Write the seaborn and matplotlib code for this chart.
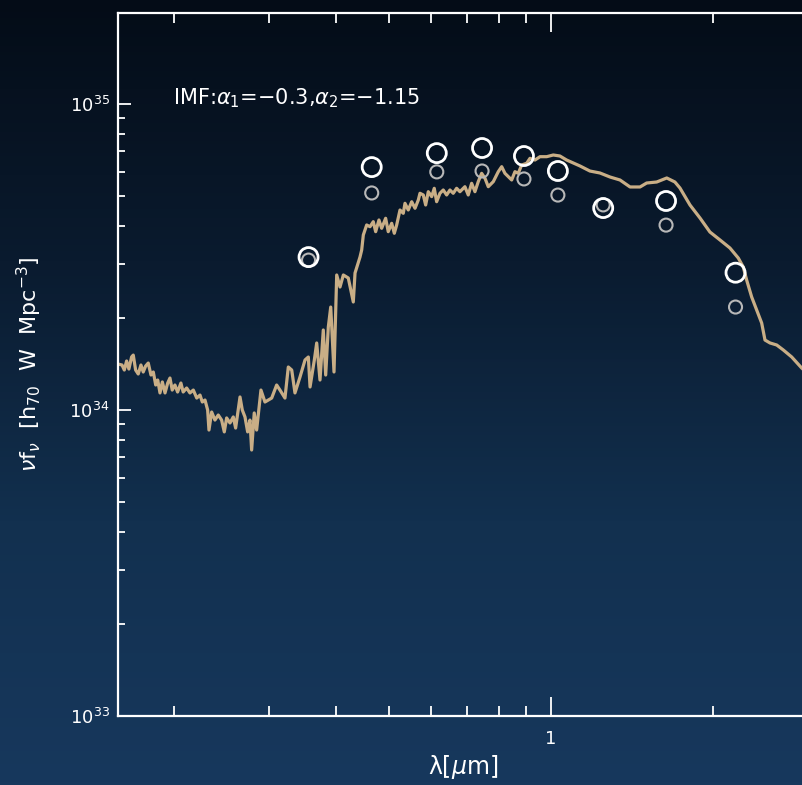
import numpy as np
import pandas as pd
import matplotlib
matplotlib.use("Agg")
import matplotlib.pyplot as plt
import matplotlib.ticker as mticker
from matplotlib.colors import LinearSegmentedColormap
import seaborn as sns

# ---------------- data ----------------
# model spectrum: wavelength [micron], nu f_nu [1e34 h70 W Mpc^-3]
spec_lam = [0.1573, 0.1600, 0.1616, 0.1632, 0.1648, 0.1667, 0.1679, 0.1696, 0.1715, 0.1735,
            0.1752, 0.1770, 0.1790, 0.1811, 0.1829, 0.1848, 0.1864, 0.1882, 0.1901, 0.1923,
            0.1945, 0.1964, 0.1983, 0.2006, 0.2029, 0.2058, 0.2078, 0.2109, 0.2139, 0.2170,
            0.2202, 0.2233, 0.2255, 0.2281, 0.2307, 0.2320, 0.2347, 0.2380, 0.2414, 0.2449,
            0.2477, 0.2502, 0.2538, 0.2574, 0.2600, 0.2649, 0.2675, 0.2706, 0.2737, 0.2764,
            0.2784, 0.2815, 0.2844, 0.2897, 0.2947, 0.3033, 0.3098, 0.3142, 0.3210, 0.3256,
            0.3304, 0.3350, 0.3423, 0.3497, 0.3547, 0.3573, 0.3639, 0.3676, 0.3728, 0.3781,
            0.3820, 0.3863, 0.3903, 0.3958, 0.4004, 0.4061, 0.4119, 0.4207, 0.4298, 0.4330,
            0.4423, 0.4455, 0.4486, 0.4551, 0.4616, 0.4681, 0.4729, 0.4796, 0.4852, 0.4935,
            0.4990, 0.5064, 0.5121, 0.5173, 0.5247, 0.5321, 0.5360, 0.5436, 0.5516, 0.5595,
            0.5674, 0.5715, 0.5796, 0.5855, 0.5921, 0.6007, 0.6074, 0.6136, 0.6224, 0.6312,
            0.6404, 0.6495, 0.6587, 0.6683, 0.6778, 0.6924, 0.7023, 0.7126, 0.7227, 0.7330,
            0.7437, 0.7544, 0.7650, 0.7816, 0.7985, 0.8102, 0.8215, 0.8334, 0.8455, 0.8574,
            0.8696, 0.8823, 0.9014, 0.9143, 0.9340, 0.9541, 0.9818, 1.0099, 1.039,
            1.069, 1.100, 1.132, 1.181, 1.233, 1.287,
            1.343, 1.402, 1.463, 1.505, 1.571, 1.640, 1.698, 1.735, 1.811, 1.890,
            1.972, 2.059, 2.148, 2.226, 2.274, 2.307, 2.357, 2.408, 2.460, 2.495,
            2.549, 2.623, 2.698, 2.797, 2.918, 2.972]
spec_flux = [1.413, 1.403, 1.351, 1.446, 1.361, 1.490, 1.512, 1.351, 1.311, 1.403,
             1.331, 1.392, 1.424, 1.301, 1.331, 1.207, 1.253, 1.137, 1.235, 1.137,
             1.225, 1.272, 1.162, 1.207, 1.145, 1.225, 1.145, 1.180, 1.137, 1.162,
             1.094, 1.119, 1.062, 1.078, 1.000, 0.860, 0.985, 0.927, 0.963, 0.927,
             0.848, 0.942, 0.907, 0.949, 0.873, 1.103, 1.000, 0.949, 0.848, 0.927,
             0.740, 0.978, 0.860, 1.162, 1.062, 1.094, 1.207, 1.162, 1.094, 1.382,
             1.351, 1.137, 1.282, 1.457, 1.490, 1.189, 1.457, 1.656, 1.253, 1.826,
             1.301, 1.867, 2.170, 1.331, 2.762, 2.523, 2.762, 2.700, 2.254, 2.804,
             3.162, 3.334, 3.732, 4.024, 3.972, 4.125, 3.826, 4.178, 3.925, 4.232,
             3.826, 4.075, 3.780, 4.024, 4.504, 4.393, 4.737, 4.504, 4.794, 4.562,
             4.857, 5.108, 5.043, 4.677, 5.169, 4.980, 5.303, 4.794, 5.108, 5.236,
             5.043, 5.236, 5.108, 5.303, 5.169, 5.367, 5.043, 5.506, 5.169, 5.574,
             5.936, 5.718, 5.367, 5.574, 6.009, 6.240, 5.936, 5.787, 5.645, 6.009,
             5.936, 6.320, 6.401, 6.645, 6.561, 6.727, 6.727, 6.813, 6.762,
             6.561, 6.416, 6.273, 6.039, 5.950, 5.773,
             5.645, 5.356, 5.356, 5.518, 5.560, 5.731, 5.560, 5.315, 4.677, 4.241,
             3.817, 3.594, 3.384, 3.138, 2.933, 2.660, 2.341, 2.122, 1.924, 1.693,
             1.656, 1.631, 1.571, 1.490, 1.372, 1.331]

# photometric points (ugriz + YJHK)
band_lam = [0.355, 0.465, 0.614, 0.745, 0.891, 1.03, 1.25, 1.635, 2.20]
obs_flux = [3.16, 6.22, 6.91, 7.18, 6.76, 6.04, 4.57, 4.82, 2.81]
alt_flux = [3.09, 5.12, 6.00, 6.04, 5.69, 5.04, 4.68, 4.02, 2.17]

x_major = [1]
x_major_labels = ["1"]
y_major = [1e33, 1e34, 1e35]
y_major_labels = [r"$10^{33}$", r"$10^{34}$", r"$10^{35}$"]

annotation = r"IMF:$\alpha_1$=$-$0.3,$\alpha_2$=$-$1.15"
x_label = "λ[" + r"$\mu$" + "m]"
y_label = r"$\nu$f$_\nu$  [h$_{70}$  W  Mpc$^{-3}$]"

UNIT = 1e34
spec = pd.DataFrame({"lam": spec_lam, "flux": np.array(spec_flux) * UNIT})
obs = pd.DataFrame({"lam": band_lam, "flux": np.array(obs_flux) * UNIT})
alt = pd.DataFrame({"lam": band_lam, "flux": np.array(alt_flux) * UNIT})

# ---------------- figure ----------------
sns.set_theme(style="white")
plt.rcParams["font.family"] = ["DejaVu Sans"]
plt.rcParams["mathtext.fontset"] = "dejavusans"

W, H = 803, 785
fig = plt.figure(figsize=(W / 100, H / 100), dpi=100)

# background gradient
bg = fig.add_axes([0, 0, 1, 1], zorder=-10)
cmap = LinearSegmentedColormap.from_list("bg", ["#040c17", "#0a1b2f", "#12304f", "#17385d"])
grad = np.linspace(0, 1, 256).reshape(-1, 1)
bg.imshow(grad, aspect="auto", cmap=cmap, extent=[0, 1, 0, 1], origin="upper")
bg.set_axis_off()

left = 118 / W
bottom = (H - 716) / H
height = (716 - 13) / H
xmin, xmax = 0.1573, 3.0
width = (539 * np.log10(xmax / xmin)) / W
ax = fig.add_axes([left, bottom, width, height])
ax.set_facecolor("none")

sns.lineplot(data=spec, x="lam", y="flux", ax=ax, color="#c9ae86", lw=2.3,
             estimator=None, sort=False, zorder=2)
sns.scatterplot(data=alt, x="lam", y="flux", ax=ax, marker="o", s=88,
                facecolor="none", edgecolor="#b8b8b8", linewidth=1.5, zorder=3)
sns.scatterplot(data=obs, x="lam", y="flux", ax=ax, marker="o", s=188,
                facecolor="none", edgecolor="white", linewidth=2.0, zorder=4)

ax.set_xscale("log")
ax.set_yscale("log")
ax.set_xlim(xmin, xmax)
ax.set_ylim(1e33, 10 ** (35 + 91 / 306))

ax.xaxis.set_major_locator(mticker.FixedLocator(x_major))
ax.xaxis.set_major_formatter(mticker.FixedFormatter(x_major_labels))
ax.xaxis.set_minor_locator(mticker.LogLocator(base=10, subs=np.arange(2, 10), numticks=20))
ax.xaxis.set_minor_formatter(mticker.NullFormatter())
ax.yaxis.set_major_locator(mticker.FixedLocator(y_major))
ax.yaxis.set_major_formatter(mticker.FixedFormatter(y_major_labels))
ax.yaxis.set_minor_locator(mticker.LogLocator(base=10, subs=np.arange(2, 10), numticks=20))
ax.yaxis.set_minor_formatter(mticker.NullFormatter())

for s in ["left", "bottom", "top"]:
    ax.spines[s].set_color("white")
    ax.spines[s].set_linewidth(1.6)
ax.spines["right"].set_visible(False)

ax.tick_params(axis="x", which="major", direction="in", length=14, width=1.3,
               colors="white", labelsize=13, top=True, bottom=True, pad=10)
ax.tick_params(axis="x", which="minor", direction="in", length=7, width=1.3,
               colors="white", top=True, bottom=True)
ax.tick_params(axis="y", which="major", direction="in", length=9.5, width=1.3,
               colors="white", labelsize=13, left=True, right=False, pad=6)
ax.tick_params(axis="y", which="minor", direction="in", length=5, width=1.3,
               colors="white", left=True, right=False)

ax.set_xlabel(x_label, color="white", fontsize=17, labelpad=4)
ax.set_ylabel(y_label, color="white", fontsize=16, labelpad=18)

ax.text((173 - 118) / 690, (716 - 98) / 703, annotation, transform=ax.transAxes,
        color="white", fontsize=15, ha="left", va="center")

fig.savefig("out.png", dpi=100)
